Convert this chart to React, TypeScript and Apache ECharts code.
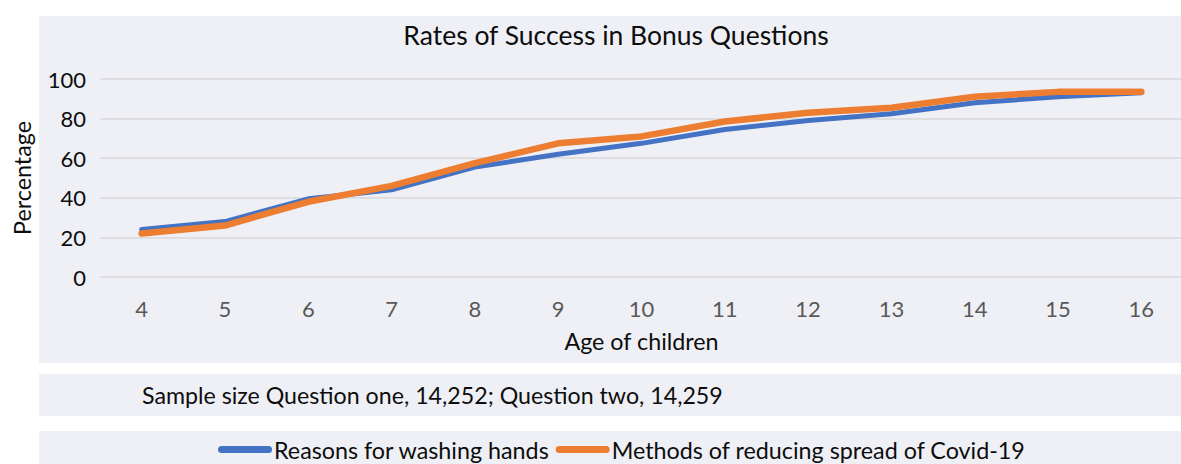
import React, { useEffect, useRef } from "react";
import * as echarts from "echarts";

const ages = ["4", "5", "6", "7", "8", "9", "10", "11", "12", "13", "14", "15", "16"];
const washingHands = [24, 28, 39.5, 44, 55.5, 62, 67.5, 74.5, 79, 82.5, 88, 91, 93];
const reducingSpread = [22, 26, 38, 46, 57.5, 67.5, 71, 78.5, 83, 85.5, 91, 93.5, 93.5];
const seriesNames = ["Reasons for washing hands", "Methods of reducing spread of Covid-19"];
const titleText = "Rates of Success in Bonus Questions";
const sampleText = "Sample size Question one, 14,252; Question two, 14,259";
const yName = "Percentage";
const xName = "Age of children";

const FONT = "Lato, 'Open Sans', sans-serif";
const PANEL = "#EFF0F5";

export default function App() {
  const ref = useRef<HTMLDivElement>(null);
  useEffect(() => {
    if (!ref.current) return;
    const chart = echarts.init(ref.current, undefined, { renderer: "svg" });
    chart.setOption({
      animation: false,
      backgroundColor: "#ffffff",
      textStyle: { fontFamily: FONT },
      graphic: [
        { type: "rect", z: -10, shape: { x: 39, y: 16, width: 1150, height: 347 }, style: { fill: PANEL } },
        { type: "rect", z: -10, shape: { x: 39, y: 374, width: 1150, height: 42 }, style: { fill: PANEL } },
        { type: "rect", z: -10, shape: { x: 39, y: 431, width: 1150, height: 40 }, style: { fill: PANEL } },
        {
          type: "text",
          x: 616,
          y: 35,
          style: { text: titleText, fill: "#0d0d0d", font: `26.5px ${FONT}`, textAlign: "center", textVerticalAlign: "middle" },
        },
        {
          type: "text",
          x: 142,
          y: 395,
          style: { text: sampleText, fill: "#0d0d0d", font: `23.2px ${FONT}`, textAlign: "left", textVerticalAlign: "middle" },
        },
      ],
      legend: {
        left: 213,
        top: 433,
        itemGap: 6,
        itemWidth: 54,
        itemHeight: 7,
        icon: "path://M3.5,0 H50.5 A3.5,3.5 0 0 1 50.5,7 H3.5 A3.5,3.5 0 0 1 3.5,0 Z",
        textStyle: { fontSize: 23.3, color: "#0d0d0d", fontFamily: FONT, padding: [0, 0, 0, -3] },
        data: seriesNames,
      },
      grid: { left: 100, top: 79, width: 1083, height: 198, containLabel: false, outerBoundsMode: "none" },
      xAxis: {
        type: "category",
        data: ages,
        boundaryGap: true,
        axisLine: { show: false },
        axisTick: { show: false },
        axisLabel: { color: "#595959", fontSize: 22, margin: 20, fontFamily: FONT },
        name: xName,
        nameLocation: "middle",
        nameGap: 52,
        nameTextStyle: { color: "#0d0d0d", fontSize: 23.3, fontFamily: FONT },
      },
      yAxis: {
        type: "value",
        min: 0,
        max: 100,
        interval: 20,
        axisLine: { show: false },
        axisTick: { show: false },
        axisLabel: { color: "#0d0d0d", fontSize: 22, margin: 14, fontFamily: FONT },
        splitLine: { lineStyle: { color: "#D9D9D9", width: 1.6 } },
        name: yName,
        nameLocation: "middle",
        nameGap: 67,
        nameTextStyle: { color: "#0d0d0d", fontSize: 23.3, fontFamily: FONT },
      },
      series: [
        {
          name: seriesNames[0],
          type: "line",
          data: washingHands,
          showSymbol: false,
          symbol: "none",
          color: "#4472C4",
          lineStyle: { color: "#4472C4", width: 5, cap: "round", join: "round" },
        },
        {
          name: seriesNames[1],
          type: "line",
          data: reducingSpread,
          showSymbol: false,
          symbol: "none",
          color: "#ED7D31",
          lineStyle: { color: "#ED7D31", width: 6.5, cap: "round", join: "round" },
        },
      ],
    });
    return () => chart.dispose();
  }, []);
  return <div ref={ref} style={{ position: "absolute", left: 0, top: 0, width: 1181, height: 464 }} />;
}
